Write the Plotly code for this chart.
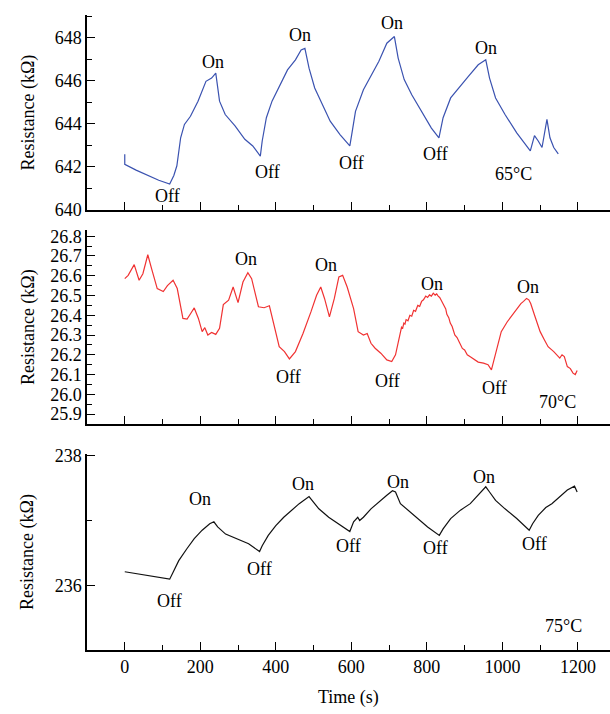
import plotly.graph_objects as go

# ---------------- data ----------------
t65 = [0, 0, 30, 60, 90, 119, 130, 138, 148, 158, 174, 194, 215, 230, 241,
       251, 266, 292, 318, 339, 359,
       364, 375, 390, 411, 431, 452, 467, 477,
       488, 503, 524, 544, 570, 596,
       601, 611, 632, 652, 673, 694, 714,
       724, 740, 760, 781, 812, 832,
       843, 863, 884, 910, 936, 956,
       966, 982, 1007, 1038, 1074,
       1085, 1095, 1105, 1118, 1126, 1136, 1148]
r65 = [642.58, 642.12, 641.85, 641.6, 641.38, 641.2, 641.6, 642.05, 643.35, 643.97, 644.35, 645.05, 645.97, 646.12, 646.35,
       645.05, 644.43, 643.9, 643.28, 642.97, 642.5,
       643.2, 644.28, 645.05, 645.8, 646.5, 646.97, 647.43, 647.5,
       646.58, 645.66, 644.9, 644.12, 643.5, 642.97,
       643.5, 644.58, 645.58, 646.2, 646.9, 647.74, 648.05,
       647.05, 646.05, 645.35, 644.74, 643.8, 643.35,
       644.28, 645.2, 645.66, 646.2, 646.74, 646.97,
       646.12, 645.2, 644.43, 643.58, 642.74,
       643.45, 643.2, 642.9, 644.2, 643.35, 642.9, 642.6]

t70 = [0, 9, 25, 38, 48, 61, 71, 86, 102, 113, 128, 139, 154, 165, 175, 184, 195, 205, 212, 220,
       230, 241, 251, 261, 275, 287, 300, 313, 326, 336, 354, 369, 383, 395, 409, 423, 436,
       452, 472, 493, 508, 519, 529, 542, 555, 567, 577, 589, 606, 618, 632, 642, 652, 663,
       678, 694, 707, 717, 730, 733, 736, 739, 742, 745, 750, 755, 760, 765, 770, 776, 781, 786, 791,
       797, 802, 807, 812, 817, 822, 826, 830, 834, 838,
       845, 850, 853, 858, 862, 867, 874, 880, 887, 894, 900, 907, 915, 925, 936, 950, 962, 971,
       982, 997, 1013, 1029, 1040, 1049, 1056, 1064,
       1070, 1075, 1085, 1100, 1110, 1121, 1136, 1145, 1152, 1158, 1164, 1172, 1180, 1187, 1193, 1198]
r70 = [26.585, 26.602, 26.656, 26.577, 26.61, 26.706, 26.636, 26.535, 26.52, 26.55, 26.577, 26.535, 26.384, 26.38, 26.41, 26.437, 26.384, 26.317, 26.337, 26.3,
       26.313, 26.303, 26.334, 26.454, 26.476, 26.543, 26.464, 26.568, 26.615, 26.585, 26.443, 26.438, 26.448, 26.35, 26.241, 26.216, 26.179,
       26.216, 26.308, 26.417, 26.501, 26.543, 26.485, 26.392, 26.485, 26.594, 26.602, 26.543, 26.434, 26.317, 26.3, 26.308, 26.258, 26.233,
       26.208, 26.174, 26.166, 26.2, 26.325, 26.34, 26.335, 26.36, 26.355, 26.378, 26.372, 26.4, 26.395, 26.425, 26.42, 26.45, 26.445, 26.47, 26.478,
       26.497, 26.49, 26.503, 26.497, 26.512, 26.502, 26.508, 26.497, 26.49, 26.476,
       26.45, 26.432, 26.405, 26.388, 26.36, 26.343, 26.3, 26.287, 26.26, 26.232, 26.224, 26.2, 26.19, 26.175, 26.163, 26.158, 26.15, 26.124,
       26.2, 26.317, 26.367, 26.409, 26.44, 26.459, 26.47, 26.485,
       26.478, 26.459, 26.401, 26.317, 26.28, 26.241, 26.216, 26.2, 26.183, 26.2, 26.191, 26.14, 26.13, 26.107, 26.1, 26.12]

t75 = [0, 30, 81, 119, 128, 143, 164, 184, 205, 225, 236,
       246, 267, 297, 328, 357,
       364, 380, 400, 421, 442, 462, 488,
       498, 514, 540, 565, 596,
       606, 617, 622, 632, 652, 673, 694, 709, 717,
       730, 750, 776, 802, 833,
       843, 863, 889, 915, 936, 956,
       966, 982, 1007, 1038, 1071,
       1080, 1095, 1115, 1131, 1152, 1172, 1191, 1198]
r75 = [236.208, 236.18, 236.13, 236.094, 236.2, 236.38, 236.56, 236.72, 236.85, 236.95, 236.98,
       236.9, 236.79, 236.72, 236.64, 236.52,
       236.61, 236.77, 236.92, 237.05, 237.16, 237.26, 237.37,
       237.29, 237.18, 237.05, 236.95, 236.83,
       236.98, 237.05, 237.0, 237.05, 237.18, 237.29, 237.39, 237.46, 237.44,
       237.26, 237.16, 237.03, 236.9, 236.77,
       236.87, 237.03, 237.16, 237.26, 237.39, 237.52,
       237.44, 237.31, 237.18, 237.03, 236.85,
       236.95, 237.08, 237.2, 237.26, 237.37, 237.47, 237.53, 237.44]

# labels: (text, time, value)
labels65 = [("Off", 112, 640.66), ("On", 234, 646.89), ("Off", 378, 641.74), ("On", 464, 648.12),
            ("Off", 601, 642.2), ("On", 709, 648.7), ("Off", 822, 642.6), ("On", 956, 647.5),
            ("65°C", 1030, 641.66)]
labels70 = [("On", 320, 26.686), ("Off", 433, 26.085), ("On", 534, 26.656), ("Off", 697, 26.065),
            ("On", 814, 26.56), ("Off", 979, 26.032), ("On", 1069, 26.543), ("70°C", 1146, 25.959)]
labels75 = [("On", 200, 237.33), ("Off", 119, 235.76), ("Off", 356, 236.25), ("On", 472, 237.57),
            ("Off", 593, 236.6), ("On", 724, 237.6), ("Off", 824, 236.57), ("On", 951, 237.67),
            ("Off", 1085, 236.63), ("75°C", 1162, 235.37)]

FONT = "Liberation Serif"
fig = go.Figure()
fig.add_trace(go.Scatter(x=t65, y=r65, mode="lines", line=dict(color="#3a52b0", width=1.2),
                         xaxis="x", yaxis="y", showlegend=False))
fig.add_trace(go.Scatter(x=t70, y=r70, mode="lines", line=dict(color="#f03232", width=1.2),
                         xaxis="x2", yaxis="y2", showlegend=False))
fig.add_trace(go.Scatter(x=t75, y=r75, mode="lines", line=dict(color="#111111", width=1.2),
                         xaxis="x3", yaxis="y3", showlegend=False))

ann = []
for (lst, xr, yr) in [(labels65, "x", "y"), (labels70, "x2", "y2"), (labels75, "x3", "y3")]:
    for txt, tx, vy in lst:
        ann.append(dict(text=txt, x=tx, y=vy, xref=xr, yref=yr, showarrow=False,
                        font=dict(family=FONT, size=18, color="black")))

doms = [[0.693, 1.0], [0.356, 0.661], [0.0, 0.309]]
for d in doms:
    ann.append(dict(text="Resistance (kΩ)", x=0, y=(d[0] + d[1]) / 2, xref="paper", yref="paper",
                    xshift=-59, xanchor="center", yanchor="middle", textangle=-90, showarrow=False,
                    font=dict(family=FONT, size=18, color="black")))
ann.append(dict(text="Time (s)", x=0.5, y=0, xref="paper", yref="paper", yshift=-47,
                xanchor="center", yanchor="middle",
                showarrow=False, font=dict(family=FONT, size=18, color="black")))

xcommon = dict(range=[-100, 1285], tickvals=[0, 200, 400, 600, 800, 1000, 1200],
               ticks="inside", ticklen=8, tickwidth=1.3, tickcolor="black",
               showline=True, linecolor="black", linewidth=1.5, showgrid=False, zeroline=False,
               minor=dict(tickvals=[100, 300, 500, 700, 900, 1100], ticks="inside", ticklen=5,
                          tickwidth=1.3, tickcolor="black", showgrid=False),
               tickfont=dict(family=FONT, size=18, color="black"))
ycommon = dict(ticks="inside", ticklen=8, tickwidth=1.3, tickcolor="black",
               showline=True, linecolor="black", linewidth=1.5, showgrid=False, zeroline=False,
               tickfont=dict(family=FONT, size=18, color="black"))

fig.update_layout(
    width=610, height=714, margin=dict(l=87, r=0, t=15, b=64),
    paper_bgcolor="white", plot_bgcolor="white",
    xaxis=dict(xcommon, domain=[0, 1], anchor="y", showticklabels=False),
    xaxis2=dict(xcommon, domain=[0, 1], anchor="y2", showticklabels=False),
    xaxis3=dict(xcommon, domain=[0, 1], anchor="y3"),
    yaxis=dict(ycommon, domain=doms[0], anchor="x", range=[640, 649.05],
               tickvals=[640, 642, 644, 646, 648],
               minor=dict(tickvals=[641, 643, 645, 647, 649], ticks="inside", ticklen=5,
                          tickwidth=1.3, tickcolor="black", showgrid=False)),
    yaxis2=dict(ycommon, domain=doms[1], anchor="x2", range=[25.85, 26.83],
                tickvals=[25.9, 26.0, 26.1, 26.2, 26.3, 26.4, 26.5, 26.6, 26.7, 26.8],
                ticktext=["25.9", "26.0", "26.1", "26.2", "26.3", "26.4", "26.5", "26.6", "26.7", "26.8"],
                minor=dict(tickvals=[25.85, 25.95, 26.05, 26.15, 26.25, 26.35, 26.45, 26.55, 26.65, 26.75],
                           ticks="inside", ticklen=5, tickwidth=1.3, tickcolor="black", showgrid=False)),
    yaxis3=dict(ycommon, domain=doms[2], anchor="x3", range=[235, 238.03],
                tickvals=[236, 238],
                minor=dict(tickvals=[235, 237], ticks="inside", ticklen=5,
                           tickwidth=1.3, tickcolor="black", showgrid=False)),
    annotations=ann,
)

fig.write_html("out.html", config={"displayModeBar": False},
               post_script="document.body.style.margin='0';document.body.style.overflow='hidden';")
